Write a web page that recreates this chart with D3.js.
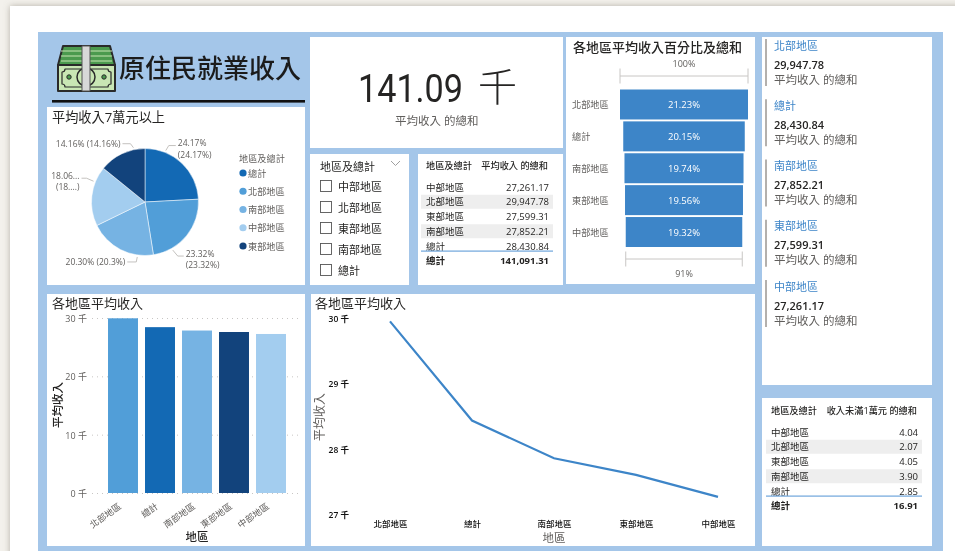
<!DOCTYPE html>
<html>
<head>
<meta charset="utf-8">
<script src="https://cdn.jsdelivr.net/npm/d3@7"></script>
<style>
  html, body { margin: 0; padding: 0; background: #f3f1ec; overflow: hidden; }
  svg { display: block; filter: blur(0.3px); }
  text { font-family: "Open Sans", "Noto Sans CJK TC", sans-serif; dominant-baseline: central; }
  .axis path { display: none; }
</style>
</head>
<body>
<div id="chart"></div>
<script>
// table order
var regions = ["中部地區", "北部地區", "東部地區", "南部地區", "總計"];
var avgIncome = [27261.17, 29947.78, 27599.31, 27852.21, 28430.84];
var under10k = [4.04, 2.07, 4.05, 3.90, 2.85];
var avgTotal = 141091.31;
var under10kTotal = 16.91;

// sorted order used by the bar, line, funnel and cards
var sortedRegions = ["北部地區", "總計", "南部地區", "東部地區", "中部地區"];
var sortedIncome = [29947.78, 28430.84, 27852.21, 27599.31, 27261.17];
var sortedShare = ["21.23%", "20.15%", "19.74%", "19.56%", "19.32%"];
var barColors = ["#519ed8", "#1369b4", "#76b3e3", "#12437c", "#a3cdef"];

// pie
var pieRegions = ["總計", "北部地區", "南部地區", "中部地區", "東部地區"];
var pieValues = [24.17, 23.32, 20.30, 18.06, 14.16];
var pieColors = ["#1369b4", "#519ed8", "#76b3e3", "#a3cdef", "#12437c"];

var yTicksBar = [0, 10000, 20000, 30000];
var yTicksLine = [27000, 28000, 29000, 30000];

var blue = "#a4c6e9", accent = "#3d85c8", dark = "#252423", mid = "#605e5c";

var svg = d3.select("#chart").append("svg").attr("width", 955).attr("height", 551);

var defs = svg.append("defs");
defs.append("filter").attr("id", "pageShadow").attr("x", "-5%").attr("y", "-5%").attr("width", "110%").attr("height", "110%")
    .append("feDropShadow").attr("dx", 0).attr("dy", 0).attr("stdDeviation", 3).attr("flood-color", "#8a8578").attr("flood-opacity", 0.6);

svg.append("rect").attr("x", 10).attr("y", 6).attr("width", 960).attr("height", 560).attr("fill", "#fff").attr("filter", "url(#pageShadow)");
svg.append("rect").attr("x", 38).attr("y", 32).attr("width", 905).attr("height", 519).attr("fill", blue);

function panel(x0, y0, x1, y1) {
    svg.append("rect").attr("x", x0).attr("y", y0).attr("width", x1 - x0).attr("height", y1 - y0).attr("fill", "#fff");
}
function label(str, x, y, size, color, anchor, weight) {
    return svg.append("text").attr("x", x).attr("y", y).attr("font-size", size)
        .attr("fill", color || dark).attr("text-anchor", anchor || "start")
        .attr("font-weight", weight || 400).text(str);
}
function fmt(v) { return d3.format(",.2f")(v); }

panel(47, 107, 305, 285);
panel(310, 37, 563, 148);
panel(310, 154, 409, 285);
panel(418, 154, 563, 285);
panel(566, 37, 755, 284);
panel(762, 37, 932, 385);
panel(762, 398, 932, 546);
panel(47, 294, 305, 546);
panel(311, 294, 755, 546);

// header
(function () {
    var g = svg.append("g").attr("stroke-linejoin", "round");
    g.append("path").attr("d", "M63,46 H110 L115,65 V90 H58 V65 Z").attr("fill", "#4b9a4e").attr("stroke", "#2a2a2a").attr("stroke-width", 2);
    [51, 56, 61].forEach(function (y) {
        g.append("line").attr("x1", 61).attr("x2", 112).attr("y1", y).attr("y2", y).attr("stroke", "#c9e6b4").attr("stroke-width", 1);
    });
    g.append("rect").attr("x", 58).attr("y", 65).attr("width", 57).attr("height", 26).attr("fill", "#c9e6b4").attr("stroke", "#2a2a2a").attr("stroke-width", 2);
    g.append("path").attr("d", "M65,69 H108 Q108,72 111,72 V84 Q108,84 108,87 H65 Q65,84 62,84 V72 Q65,72 65,69 Z").attr("fill", "none").attr("stroke", "#2a2a2a").attr("stroke-width", 1.2);
    g.append("circle").attr("cx", 86).attr("cy", 77).attr("r", 9).attr("fill", "none").attr("stroke", "#2a2a2a").attr("stroke-width", 1.5);
    g.append("circle").attr("cx", 69).attr("cy", 77).attr("r", 2.2).attr("fill", "#4b9a4e").attr("stroke", "#2a2a2a");
    g.append("circle").attr("cx", 104).attr("cy", 77).attr("r", 2.2).attr("fill", "#4b9a4e").attr("stroke", "#2a2a2a");
    g.append("rect").attr("x", 82).attr("y", 46).attr("width", 8).attr("height", 45).attr("fill", "#d8d8d8").attr("stroke", "#555").attr("stroke-width", 1);
    label("原住民就業收入", 119, 68, 26, "#1b1b1b", "start", 500);
    svg.append("rect").attr("x", 52).attr("y", 100).attr("width", 253).attr("height", 2.6).attr("fill", "#111");
})();

// pie
(function () {
    label("平均收入7萬元以上", 52, 117, 13.2, dark);
    var r = 53.5, cx = 145, cy = 202;
    var arcs = d3.pie().sort(null)(pieValues);
    var arc = d3.arc().innerRadius(0).outerRadius(r);
    var g = svg.append("g").attr("transform", "translate(" + cx + "," + cy + ")");
    g.selectAll("path").data(arcs).enter().append("path")
        .attr("d", arc)
        .attr("fill", function (d, i) { return pieColors[i]; })
        .attr("stroke", "#fff").attr("stroke-width", 0.5);

    // leader attach angle (deg clockwise from top), elbow offset, horizontal run, label lines
    var leaders = [
        { a: 22, ex: 3, ey: -5, run: 7, lines: ["24.17%", "(24.17%)"], anchor: "start" },
        { a: 150, ex: 5, ey: 6, run: 6, lines: ["23.32%", "(23.32%)"], anchor: "start" },
        { a: 188, ex: -1, ey: 5, run: -9, lines: ["20.30% (20.3%)"], anchor: "end" },
        { a: 292, ex: -7, ey: -3, run: -5, lines: ["18.06...", "(18....)"], anchor: "end" },
        { a: 348, ex: -3, ey: -4, run: -8, lines: ["14.16% (14.16%)"], anchor: "end" }
    ];
    leaders.forEach(function (l) {
        var p = d3.pointRadial(l.a * Math.PI / 180, r + 2);
        var ex = p[0] + l.ex, ey = p[1] + l.ey, tx = ex + l.run;
        g.append("polyline").attr("points", [p, [ex, ey], [tx, ey]].join(" "))
            .attr("fill", "none").attr("stroke", "#bdbbb8").attr("stroke-width", 0.9);
        var off = l.anchor === "start" ? 2 : -2;
        g.selectAll(null).data(l.lines).enter().append("text")
            .attr("x", tx + off)
            .attr("y", function (d, i) { return ey + (l.lines.length > 1 ? (i * 11.7) - 3 : 0); })
            .attr("text-anchor", l.anchor).attr("font-size", 8.5).attr("fill", mid)
            .text(function (d) { return d; });
    });

    label("地區及總計", 239, 158, 9.2, mid);
    var legendY = d3.scalePoint().domain(pieRegions).range([173, 246]);
    pieRegions.forEach(function (name, i) {
        svg.append("circle").attr("cx", 243).attr("cy", legendY(name)).attr("r", 3.6).attr("fill", pieColors[i]);
        label(name, 248, legendY(name), 9.2, mid);
    });
})();

// KPI
label("141.09", 358, 89, 39, dark).style("font-family", "Roboto").attr("textLength", 105).attr("lengthAdjust", "spacingAndGlyphs");
label("千", 478, 85, 39, dark).attr("font-weight", 300);
label("平均收入 的總和", 395, 120, 11.5, mid);

// slicer
(function () {
    label("地區及總計", 320, 166, 11, dark);
    svg.append("path").attr("d", "M391,161 L395.5,165.5 L400,161").attr("fill", "none").attr("stroke", "#a0a0a0").attr("stroke-width", 1);
    var slicerY = d3.scalePoint().domain(regions).range([186, 270]);
    regions.forEach(function (name) {
        svg.append("rect").attr("x", 320.5).attr("y", slicerY(name) - 5.5).attr("width", 11).attr("height", 11)
            .attr("fill", "#fff").attr("stroke", "#555").attr("stroke-width", 0.9);
        label(name, 338, slicerY(name), 11, dark);
    });
})();

// tables
function table(x0, x1, topY, head1, head2, rows, vals, total, fmtV) {
    label(head1, x0 + 5, topY, 9.2, dark, "start", 500);
    label(head2, x1 - 5, topY, 9.2, dark, "end", 500);
    var rowY = d3.scalePoint().domain(rows).range([topY + 22, topY + 81]);
    rows.forEach(function (name, i) {
        if (i % 2 === 1) {
            svg.append("rect").attr("x", x0).attr("y", rowY(name) - 7).attr("width", x1 - x0).attr("height", 14).attr("fill", "#eeeeee");
        }
        label(name, x0 + 5, rowY(name), 9.5, dark);
        label(fmtV(vals[i]), x1 - 4, rowY(name), 9.5, dark, "end");
    });
    svg.append("rect").attr("x", x0).attr("y", topY + 85.5).attr("width", x1 - x0).attr("height", 1.2).attr("fill", "#6fa5dc");
    label("總計", x0 + 5, topY + 95, 9.5, dark, "start", 700);
    label(fmtV(total), x1 - 4, topY + 95, 9.5, dark, "end", 700);
}
table(421, 553, 165, "地區及總計", "平均收入 的總和", regions, avgIncome, avgTotal, fmt);
table(766, 922, 410, "地區及總計", "收入未滿1萬元 的總和", regions, under10k, under10kTotal, fmt);

// funnel
(function () {
    label("各地區平均收入百分比及總和", 573, 47, 13, dark, "start", 500);
    var y = d3.scaleBand().domain(sortedRegions).range([89.5, 247]).paddingInner(0.06);
    var w = d3.scaleLinear().domain([0, d3.max(sortedIncome)]).range([0, 128]);
    var cx = 684;
    sortedRegions.forEach(function (name, i) {
        var bw = w(sortedIncome[i]);
        svg.append("rect").attr("x", cx - bw / 2).attr("y", y(name)).attr("width", bw).attr("height", y.bandwidth()).attr("fill", accent);
        label(sortedShare[i], cx, y(name) + y.bandwidth() / 2, 9.5, "#fff", "middle");
        label(name, 572, y(name) + y.bandwidth() / 2, 9.2, mid);
    });
    function bracket(v, yy) {
        var half = w(v) / 2;
        svg.append("path").attr("d", "M" + (cx - half) + "," + (yy - 7.5) + "V" + (yy + 7.5) + "M" + (cx - half) + "," + yy + "H" + (cx + half) + "M" + (cx + half) + "," + (yy - 7.5) + "V" + (yy + 7.5))
            .attr("fill", "none").attr("stroke", "#c8c6c4").attr("stroke-width", 1);
    }
    bracket(sortedIncome[0], 76);
    label("100%", cx, 63, 9, mid, "middle");
    bracket(sortedIncome[4], 259);
    label("91%", cx, 273, 9, mid, "middle");
})();

// cards
(function () {
    var cardY = d3.scalePoint().domain(sortedRegions).range([39, 280]);
    sortedRegions.forEach(function (name, i) {
        var y = cardY(name);
        svg.append("rect").attr("x", 765).attr("y", y).attr("width", 2).attr("height", 47).attr("fill", "#b3b0ad");
        label(name, 774, y + 6, 11, accent);
        label(fmt(sortedIncome[i]), 774, y + 25, 11, dark, "start", 600);
        label("平均收入 的總和", 774, y + 40, 11.5, mid);
    });
})();

// bar chart
(function () {
    label("各地區平均收入", 52, 303, 13, dark);
    var x = d3.scaleBand().domain(sortedRegions).range([104.5, 289.5]).paddingInner(0.19).paddingOuter(0.095);
    var y = d3.scaleLinear().domain([0, 30000]).range([493, 318]);

    var yAxis = svg.append("g").attr("class", "axis").attr("transform", "translate(92,0)")
        .call(d3.axisLeft(y).tickValues(yTicksBar).tickSize(-208).tickPadding(5).tickFormat(function (d) { return (d / 1000) + " 千"; }));
    yAxis.selectAll("line").attr("stroke", "#c8c6c4").attr("stroke-dasharray", "1,4");
    yAxis.selectAll("text").attr("font-size", 9).attr("fill", mid).attr("dy", 0);

    svg.selectAll(null).data(sortedRegions).enter().append("rect")
        .attr("x", function (d) { return x(d); })
        .attr("y", function (d, i) { return y(sortedIncome[i]); })
        .attr("width", x.bandwidth())
        .attr("height", function (d, i) { return y(0) - y(sortedIncome[i]); })
        .attr("fill", function (d, i) { return barColors[i]; });

    var xAxis = svg.append("g").attr("class", "axis").attr("transform", "translate(0,493)")
        .call(d3.axisBottom(x).tickSize(0).tickPadding(0));
    xAxis.selectAll("text")
        .attr("font-size", 9).attr("fill", mid).attr("text-anchor", "end").attr("dy", 0).attr("y", 0).attr("x", 0)
        .attr("transform", "translate(-3,12) rotate(-35)");

    label("平均收入", 0, 0, 11.5, dark, "middle", 500).attr("transform", "translate(57,405) rotate(-90)");
    label("地區", 197, 536, 11.5, dark, "middle", 500);
})();

// line chart
(function () {
    label("各地區平均收入", 315, 303, 13, dark);
    var x = d3.scalePoint().domain(sortedRegions).range([390, 718]);
    var y = d3.scaleLinear().domain([27000, 30000]).range([514, 318]);

    var yAxis = svg.append("g").attr("class", "axis").attr("transform", "translate(349,0)")
        .call(d3.axisLeft(y).tickValues(yTicksLine).tickSize(0).tickPadding(0).tickFormat(function (d) { return (d / 1000) + " 千"; }));
    yAxis.selectAll("text").attr("font-size", 8.5).attr("fill", "#111").attr("font-weight", 600).attr("dy", 0);

    var xAxis = svg.append("g").attr("class", "axis").attr("transform", "translate(0,523)")
        .call(d3.axisBottom(x).tickSize(0).tickPadding(0));
    xAxis.selectAll("text").attr("font-size", 8.5).attr("fill", "#111").attr("font-weight", 500).attr("dy", 0).attr("y", 0);

    var line = d3.line()
        .x(function (d) { return x(d); })
        .y(function (d, i) { return y(sortedIncome[i]); });
    svg.append("path").datum(sortedRegions).attr("d", line)
        .attr("fill", "none").attr("stroke", accent).attr("stroke-width", 2.2);

    label("平均收入", 0, 0, 12, mid, "middle").attr("transform", "translate(319,417) rotate(-90)");
    label("地區", 554, 537, 11.5, mid, "middle");
})();
</script>
</body>
</html>
